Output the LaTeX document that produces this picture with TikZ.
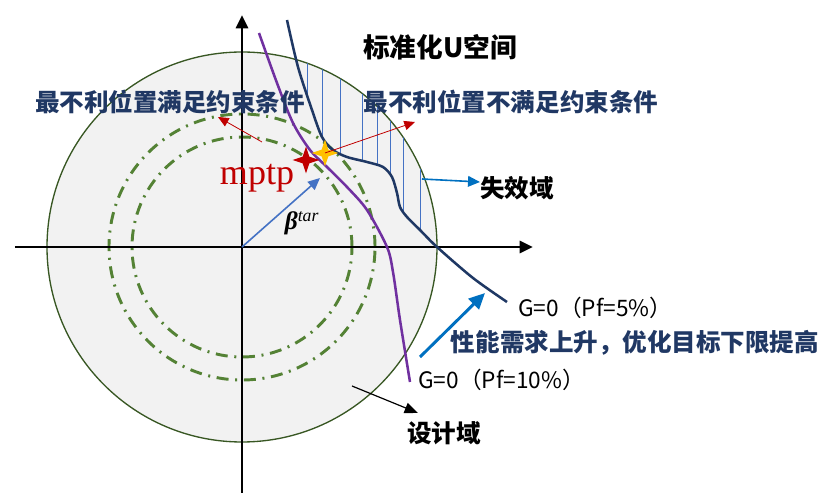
\documentclass[tikz,border=0pt]{standalone}
\usepackage{fontspec}
\setmainfont{Liberation Serif}
\newfontfamily\cjk{Noto Sans CJK SC}
\usepackage{amsmath}
\usetikzlibrary{arrows.meta,shapes.geometric,positioning}
\definecolor{domgray}{HTML}{F2F2F2}
\definecolor{domgreen}{HTML}{385723}
\definecolor{ringgreen}{HTML}{548235}
\definecolor{curvepurple}{HTML}{7030A0}
\definecolor{curvenavy}{HTML}{1F3864}
\definecolor{txtnavy}{HTML}{203864}
\definecolor{hatchblue}{HTML}{4472C4}
\definecolor{arrblue}{HTML}{0070C0}
\definecolor{mpred}{HTML}{C00000}
\definecolor{mpyellow}{HTML}{FFC000}

\begin{document}
\begin{tikzpicture}[x=0.75pt,y=0.75pt,
  axis/.style={line width=2.2pt,-{Triangle[length=10pt,width=9pt]}},
  ring/.style={draw=ringgreen,line width=2.2pt,dash pattern=on 9pt off 5pt on 1.5pt off 5pt},
  limitcurve/.style={line width=1.9pt},
  hatch/.style={hatchblue,line width=0.5pt},
  cnlbl/.style={font=\cjk\bfseries\fontsize{18.4}{20}\selectfont},
  glbl/.style={font=\cjk\fontsize{17}{19}\selectfont,inner sep=0pt,anchor=west},
  thinarr/.style={mpred,line width=0.6pt,-{Triangle[length=8pt,width=7pt]}},
  bluearr/.style={line width=1.2pt,-{Triangle[length=9pt,width=8pt]}},
  sparkle/.style={star,star points=4,star point ratio=2.8,inner sep=0pt,minimum size=20pt}]
\useasboundingbox (-242,247) rectangle (591,-256);

\filldraw[fill=domgray,draw=domgreen,line width=1pt] (0,0) circle (195);
\begin{scope}
\clip (0,0) circle (195);
\clip plot[smooth] coordinates {(45,227) (56,180) (70,137) (80,110) (91,97) (105,90) (125,85) (141,80) (150,70) (155,54) (158,40) (165,30) (178,17) (195,0) (231,-31) (265,-55)} -- (400,-55) -- (400,300) -- cycle;
\foreach \x in {65,80,98,120,135,148,161,178}
  \draw[hatch] (\x,250) -- (\x,-100);
\end{scope}

\draw[ring] (0,0) circle (133);
\draw[ring] (0,0) circle (110);

\draw[axis] (-227,0) -- (291,0);
\draw[axis] (0,-246) -- (0,232);

\draw[limitcurve,curvepurple] plot[smooth] coordinates {(17,214) (35,164) (51,124) (68,97) (85,80) (105,60) (125,37) (145,0) (151,-25) (158,-73) (168,-135)};
\draw[limitcurve,curvenavy] plot[smooth] coordinates {(45,227) (56,180) (70,137) (80,110) (91,97) (105,90) (125,85) (141,80) (150,70) (155,54) (158,40) (165,30) (178,17) (195,0) (231,-31) (265,-55)};

\node[cnlbl] (title) at (198,200) {\fontsize{20}{22}\selectfont 标准化U空间};
\node[cnlbl,text=txtnavy] (okpos) at (-72,145) {最不利位置满足约束条件};
\node[cnlbl,text=txtnavy] (failpos) at (269,145) {最不利位置不满足约束条件};
\node[cnlbl] (faildom) at (275,59) {失效域};
\node[cnlbl,text=txtnavy] (rise) at (393,-96) {性能需求上升，优化目标下限提高};
\node[cnlbl] (designdom) at (202,-186) {设计域};
\node[glbl] (g5) at (276,-61) {G=0（Pf=5\%）};
\node[glbl] (g10) at (176,-133) {G=0（Pf=10\%）};

\node[sparkle,fill=mpred] (rstar) at (64,87) {};
\node[sparkle,fill=mpyellow] (ystar) at (83,94) {};
\node[anchor=base,text=mpred,font=\fontsize{27}{30}\selectfont] (mptp) at (15,62) {mptp};
\node[font=\fontsize{19}{21}\selectfont] (beta) at (60,24) {{\bfseries\itshape β}\textsuperscript{\itshape tar}};

\coordinate (o) at (0,0);
\coordinate (btip) at (78,69);
\coordinate (okfrom) at (20,105);
\coordinate (okto) at (-24,130);
\coordinate (failto) at (173,125);
\coordinate (fdfrom) at (180,68);
\coordinate (fdto) at (238,65);
\coordinate (risefrom) at (178,-110);
\coordinate (riseto) at (243,-46);
\coordinate (ddfrom) at (110,-139);
\coordinate (ddto) at (176,-166);

\draw[bluearr,hatchblue] (o) -- (btip);
\draw[thinarr] (okfrom) -- (okto);
\draw[thinarr] (ystar.center) -- (failto);
\draw[bluearr,arrblue] (fdfrom) -- (fdto);
\draw[bluearr,arrblue,line width=2.2pt,-{Triangle[length=12pt,width=11pt]}] (risefrom) -- (riseto);
\draw[line width=0.9pt,-{Triangle[length=10pt,width=8pt]}] (ddfrom) -- (ddto);
\end{tikzpicture}
\end{document}
